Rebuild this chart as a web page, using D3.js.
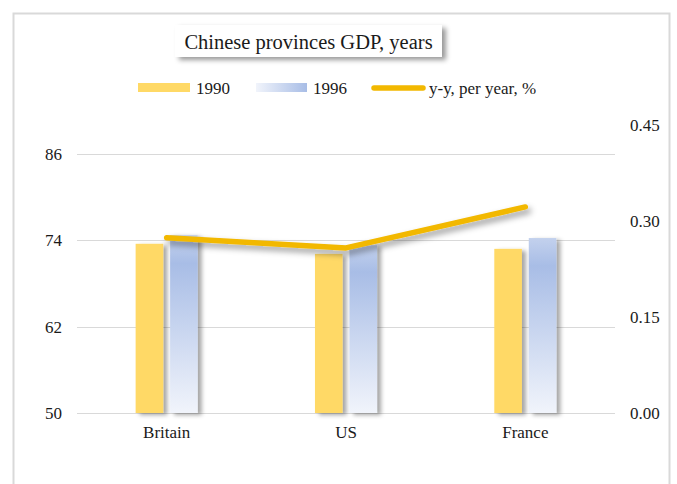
<!DOCTYPE html>
<html>
<head>
<meta charset="utf-8">
<script src="https://cdn.jsdelivr.net/npm/d3@7"></script>
<style>
  html, body { margin: 0; padding: 0; background: #ffffff; }
  svg { display: block; }
  text { font-family: "Liberation Serif", "Times New Roman", serif; fill: #1a1a1a; }
</style>
</head>
<body>
<svg id="chart" width="677" height="484"></svg>
<script>
// Chart data
const categories = ["Britain", "US", "France"];
const seriesKeys = ["1990", "1996"];
const values1990 = [73.5, 72.1, 72.8];
const values1996 = [74.7, 73.3, 74.3];
const growthYY = [0.274, 0.258, 0.322];
const leftTicks = [50, 62, 74, 86];
const rightTicks = [0, 0.15, 0.30, 0.45];
const titleText = "Chinese provinces GDP, years";
const lineLabel = "y-y, per year, %";

const svg = d3.select("#chart");
const defs = svg.append("defs");

// Gradients
const gv = defs.append("linearGradient").attr("id", "blueV")
  .attr("x1", 0).attr("y1", 0).attr("x2", 0).attr("y2", 1);
gv.append("stop").attr("offset", "0%").attr("stop-color", "#c3d1ed");
gv.append("stop").attr("offset", "16%").attr("stop-color", "#a8bde6");
gv.append("stop").attr("offset", "100%").attr("stop-color", "#f1f4fb");

const gh = defs.append("linearGradient").attr("id", "blueH")
  .attr("x1", 0).attr("y1", 0).attr("x2", 1).attr("y2", 0);
gh.append("stop").attr("offset", "0%").attr("stop-color", "#f1f4fb");
gh.append("stop").attr("offset", "100%").attr("stop-color", "#a8bde6");

// Shadows
const fBar = defs.append("filter").attr("id", "barShadow")
  .attr("x", "-20%").attr("y", "-10%").attr("width", "160%").attr("height", "130%");
fBar.append("feDropShadow").attr("dx", 4).attr("dy", 2).attr("stdDeviation", 2)
  .attr("flood-color", "#000").attr("flood-opacity", 0.35);

const fLine = defs.append("filter").attr("id", "lineShadow")
  .attr("x", "-10%").attr("y", "-50%").attr("width", "130%").attr("height", "250%");
fLine.append("feDropShadow").attr("dx", 3).attr("dy", 4).attr("stdDeviation", 3)
  .attr("flood-color", "#000").attr("flood-opacity", 0.4);

const fBox = defs.append("filter").attr("id", "boxShadow")
  .attr("x", "-10%").attr("y", "-30%").attr("width", "130%").attr("height", "180%");
fBox.append("feDropShadow").attr("dx", 4).attr("dy", 3).attr("stdDeviation", 2.5)
  .attr("flood-color", "#000").attr("flood-opacity", 0.4);

// Outer frame
svg.append("rect")
  .attr("x", 13.5).attr("y", 13.5).attr("width", 656).attr("height", 490)
  .attr("fill", "#fff").attr("stroke", "#d9d9d9").attr("stroke-width", 2);

// Plot geometry
const plot = { left: 77, right: 615, top: 125, bottom: 413 };

const x0 = d3.scaleBand().domain(categories).range([plot.left, plot.right]).padding(0);
const x1 = d3.scaleBand().domain(seriesKeys).range([0, x0.bandwidth()])
  .paddingInner(0.2).paddingOuter(1.7);
const yL = d3.scaleLinear().domain([50, 90]).range([plot.bottom, plot.top]);
const yR = d3.scaleLinear().domain([0, 0.45]).range([plot.bottom, plot.top]);

// Gridlines (left axis)
svg.append("g").selectAll("line").data(leftTicks).join("line")
  .attr("x1", plot.left).attr("x2", plot.right)
  .attr("y1", d => Math.round(yL(d)) + 0.5).attr("y2", d => Math.round(yL(d)) + 0.5)
  .attr("stroke", "#d9d9d9").attr("stroke-width", 1.2);

// Left axis
const axL = svg.append("g").attr("transform", `translate(${plot.left},0)`)
  .call(d3.axisLeft(yL).tickValues(leftTicks).tickSize(0).tickPadding(15).tickFormat(d3.format("d")));
axL.select(".domain").remove();
axL.selectAll("text").attr("font-size", 17).attr("fill", "#1a1a1a")
  .style("font-family", "'Liberation Serif', serif");

// Right axis
const axR = svg.append("g").attr("transform", `translate(${plot.right},0)`)
  .call(d3.axisRight(yR).tickValues(rightTicks).tickSize(0).tickPadding(15).tickFormat(d3.format(".2f")));
axR.select(".domain").remove();
axR.selectAll("text").attr("font-size", 17).attr("fill", "#1a1a1a")
  .style("font-family", "'Liberation Serif', serif");

// Category axis
const axB = svg.append("g").attr("transform", `translate(0,${plot.bottom})`)
  .call(d3.axisBottom(x0).tickSize(0).tickPadding(13));
axB.select(".domain").remove();
axB.selectAll("text").attr("font-size", 17).attr("fill", "#1a1a1a")
  .style("font-family", "'Liberation Serif', serif");

// Bars
const rows = categories.map((c, i) => ({ cat: c, "1990": values1990[i], "1996": values1996[i] }));
const fills = { "1990": "#ffd966", "1996": "url(#blueV)" };
svg.append("g").selectAll("g").data(rows).join("g")
  .attr("transform", d => `translate(${x0(d.cat)},0)`)
  .selectAll("rect").data(d => seriesKeys.map(k => ({ key: k, value: d[k] }))).join("rect")
  .attr("x", d => x1(d.key))
  .attr("width", x1.bandwidth())
  .attr("y", d => yL(d.value))
  .attr("height", d => yL(50) - yL(d.value))
  .attr("fill", d => fills[d.key])
  .attr("filter", "url(#barShadow)");

// Growth line
const line = d3.line()
  .x((d, i) => x0(categories[i]) + x0.bandwidth() / 2)
  .y(d => yR(d));
svg.append("path").datum(growthYY)
  .attr("d", line)
  .attr("fill", "none").attr("stroke", "#f2b800").attr("stroke-width", 5.5)
  .attr("stroke-linecap", "round").attr("stroke-linejoin", "round")
  .attr("filter", "url(#lineShadow)");

// Title box
svg.append("rect").attr("x", 175).attr("y", 25).attr("width", 267).attr("height", 32)
  .attr("fill", "#fff").attr("filter", "url(#boxShadow)");
svg.append("text").attr("x", 308.5).attr("y", 48.5).attr("text-anchor", "middle")
  .attr("font-size", 20.5).text(titleText);

// Legend
const leg = svg.append("g");
leg.append("rect").attr("x", 138).attr("y", 83).attr("width", 52).attr("height", 9).attr("fill", "#ffd966");
leg.append("text").attr("x", 196).attr("y", 94).attr("font-size", 17).text(seriesKeys[0]);
leg.append("rect").attr("x", 256).attr("y", 83).attr("width", 51).attr("height", 9).attr("fill", "url(#blueH)");
leg.append("text").attr("x", 313).attr("y", 94).attr("font-size", 17).text(seriesKeys[1]);
leg.append("line").attr("x1", 374).attr("x2", 423).attr("y1", 88).attr("y2", 88)
  .attr("stroke", "#f2b800").attr("stroke-width", 5.5).attr("stroke-linecap", "round");
leg.append("text").attr("x", 429).attr("y", 94).attr("font-size", 17).text(lineLabel);
</script>
</body>
</html>
